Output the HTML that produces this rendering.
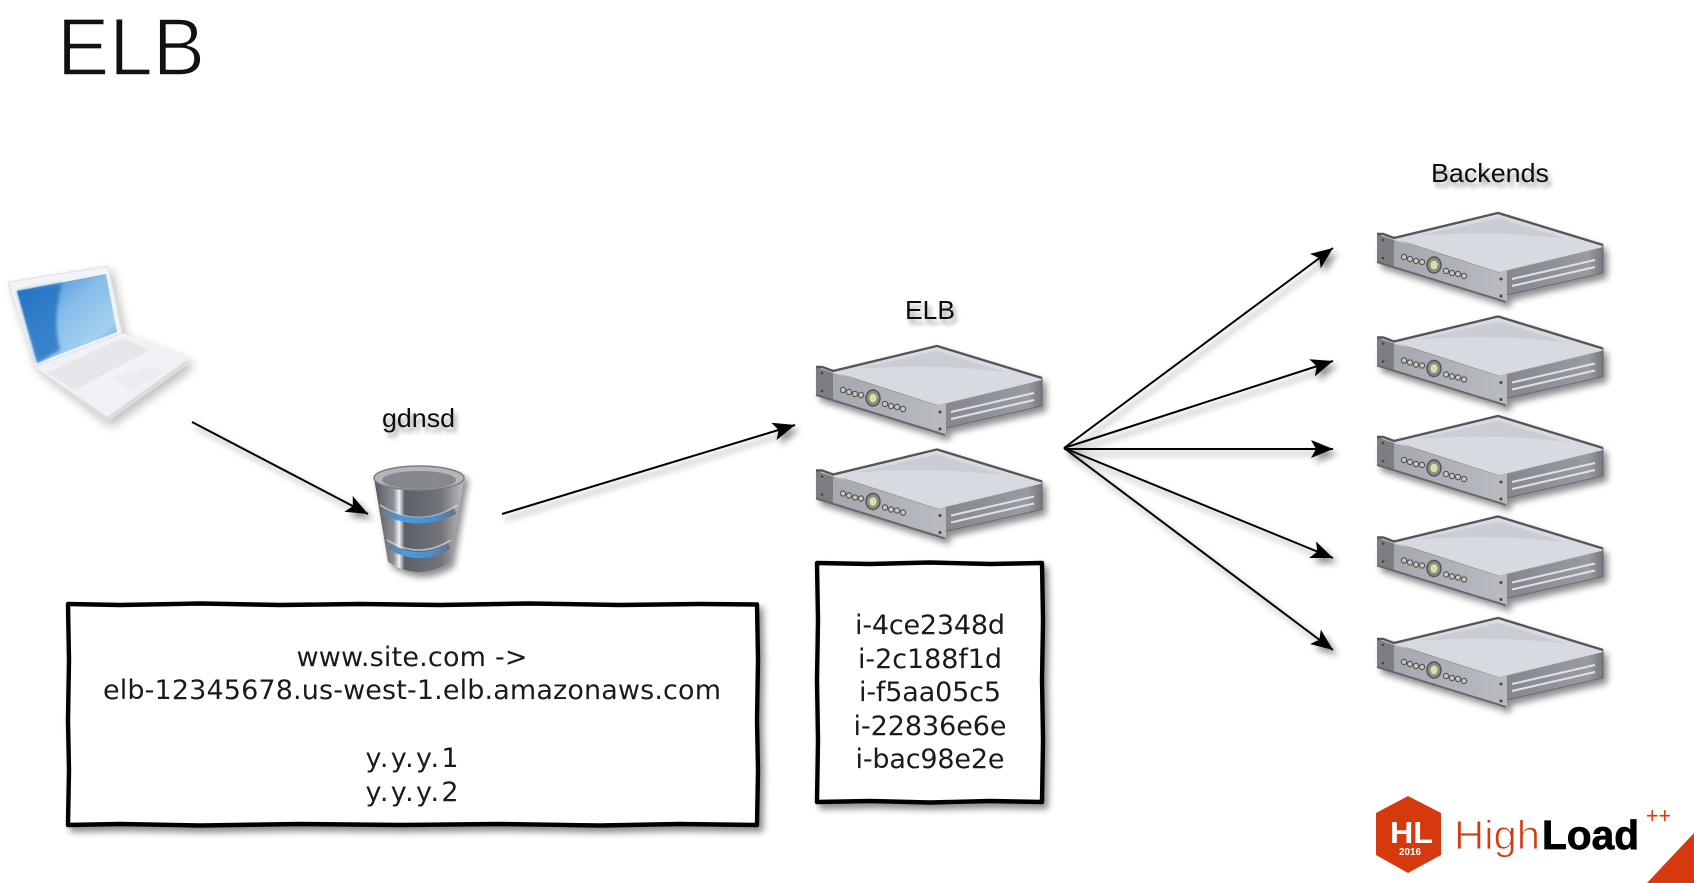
<!DOCTYPE html>
<html><head><meta charset="utf-8"><style>
html,body{margin:0;padding:0;background:#fff;width:1694px;height:883px;overflow:hidden}
svg{display:block}
text{font-family:"Liberation Sans",sans-serif;fill:#111}
.m{font-family:"DejaVu Sans",sans-serif;font-size:27px;text-anchor:middle;fill:#1a1a1a}
.l{font-size:26px;filter:url(#ts)}
</style></head><body>
<svg width="1694" height="883" viewBox="0 0 1694 883" xmlns="http://www.w3.org/2000/svg">
<defs>
<filter id="sh" x="-15%" y="-15%" width="130%" height="135%"><feGaussianBlur in="SourceAlpha" stdDeviation="3.5"/><feOffset dx="4" dy="5"/><feComponentTransfer><feFuncA type="linear" slope=".45"/></feComponentTransfer><feMerge><feMergeNode/><feMergeNode in="SourceGraphic"/></feMerge></filter>
<filter id="soft" x="-15%" y="-15%" width="130%" height="135%"><feGaussianBlur in="SourceAlpha" stdDeviation="5"/><feOffset dx="4" dy="5"/><feComponentTransfer><feFuncA type="linear" slope=".25"/></feComponentTransfer><feMerge><feMergeNode/><feMergeNode in="SourceGraphic"/></feMerge></filter>
<filter id="ts" x="-20%" y="-40%" width="140%" height="190%"><feGaussianBlur in="SourceAlpha" stdDeviation="2.5"/><feOffset dx="3" dy="5"/><feComponentTransfer><feFuncA type="linear" slope=".4"/></feComponentTransfer><feMerge><feMergeNode/><feMergeNode in="SourceGraphic"/></feMerge></filter>
<filter id="b1"><feGaussianBlur stdDeviation="1.5"/></filter>
<marker id="ah" markerUnits="userSpaceOnUse" markerWidth="30" markerHeight="30" refX="25" refY="12" orient="auto" viewBox="0 0 30 24"><path d="M25,12 L3,3 L8,12 L3,21Z" fill="#000"/></marker>
<linearGradient id="front" x1="0" y1="0" x2="1" y2="0"><stop offset="0" stop-color="#a6a8b0"/><stop offset="1" stop-color="#b8bac1"/></linearGradient>
<linearGradient id="side" x1="0" y1="0" x2="1" y2="0"><stop offset="0" stop-color="#85878e"/><stop offset=".85" stop-color="#999ba2"/><stop offset="1" stop-color="#75777d"/></linearGradient>
<linearGradient id="scr" x1="0" y1="0" x2="1" y2="1"><stop offset="0" stop-color="#2b7ccb"/><stop offset=".45" stop-color="#86bdea"/><stop offset=".75" stop-color="#a5d0f0"/><stop offset="1" stop-color="#3a90dc"/></linearGradient>
<linearGradient id="cyl" x1="0" y1="0" x2="1" y2="0"><stop offset="0" stop-color="#54575e"/><stop offset=".22" stop-color="#8d9096"/><stop offset=".28" stop-color="#f0f2f4"/><stop offset=".34" stop-color="#5c6068"/><stop offset=".75" stop-color="#72757b"/><stop offset="1" stop-color="#bcbec2"/></linearGradient>
<linearGradient id="band" x1="0" y1="0" x2="1" y2="0"><stop offset="0" stop-color="#6d7c8c"/><stop offset=".25" stop-color="#4d9ae0"/><stop offset=".7" stop-color="#4590d4"/><stop offset="1" stop-color="#68747f"/></linearGradient>
<g id="srv">
<polygon points="17,28 122,61 122,86 17,55" fill="url(#front)"/>
<polygon points="17,26 121,3 226,35 122,60" fill="#d8dae1"/>
<path d="M40,24 L121,6 L190,27 Q120,18 40,24Z" fill="#cbcdd4"/>
<polygon points="130,59 226,35 226,61 130,83" fill="url(#side)"/>
<polygon points="122,60 130,58 130,90 122,87" fill="#b8bac0"/>
<polygon points="0,22 17,28 17,55 0,50" fill="#7c7e84"/>
<path d="M0,50 L129,90" stroke="#66686e" stroke-width="2" fill="none"/>
<path d="M0,22 L6,22 L17,26 L121,1 L226,33" fill="none" stroke="#55565b" stroke-width="2.4"/>
<path d="M226,33 L226,61 L130,83" fill="none" stroke="#66686e" stroke-width="1"/>
<path d="M135,67 L218,48 M135,74 L218,55" stroke="#dfe0e5" stroke-width="2"/>
<g fill="#c9cbb8" stroke="#55575c" stroke-width="1.2"><circle cx="27" cy="45" r="2.6"/><circle cx="33" cy="47" r="2.6"/><circle cx="39" cy="49" r="2.6"/><circle cx="45" cy="50" r="2.6"/><circle cx="69" cy="59" r="2.6"/><circle cx="75" cy="61" r="2.6"/><circle cx="81" cy="62" r="2.6"/><circle cx="87" cy="64" r="2.6"/></g>
<ellipse cx="57" cy="53" rx="7" ry="8" fill="#8a8c86" stroke="#4f5156" stroke-width="1.4"/><ellipse cx="57" cy="53" rx="3.6" ry="4.4" fill="#d8e0a8"/>
<circle cx="6" cy="28" r="1.3" fill="#444"/><circle cx="6" cy="46" r="1.3" fill="#444"/><circle cx="124" cy="67" r="1.5" fill="#444"/><circle cx="124" cy="84" r="1.5" fill="#444"/>
</g>
</defs>
<rect width="1694" height="883" fill="#fff"/>

<!-- title -->
<text x="57" y="75" font-size="82" textLength="148" lengthAdjust="spacingAndGlyphs" style="fill:#111;stroke:#fff;stroke-width:1.6">ELB</text>

<!-- labels -->
<text class="l" x="1431" y="182" textLength="118" lengthAdjust="spacingAndGlyphs">Backends</text>
<text class="l" x="905" y="319" textLength="50" lengthAdjust="spacingAndGlyphs">ELB</text>
<text class="l" x="382" y="427" textLength="73" lengthAdjust="spacingAndGlyphs">gdnsd</text>

<!-- laptop -->
<g filter="url(#soft)">
<polygon points="8,282 108,266 122,333 188,357 187,365 107,422 35,367" fill="#f0f1f4"/>
<polygon points="8,282 108,266 122,333 35,367" fill="#f2f3f6" stroke="#dfe0e3"/>
<polygon points="17,291 106,274 117,332 37,363" fill="url(#scr)"/>
<path d="M17,291 L62,283 Q52,320 60,350 L37,363Z" fill="#1c6cc0" opacity=".75" filter="url(#b1)"/>
<polygon points="47,373 122,336 183,358 105,405" fill="#f1f2f5"/>
<polygon points="47,373 122,338 150,350 75,390" fill="#e6e7eb"/>
<polygon points="113,378 150,366 165,372 130,390" fill="#ebecef"/>
<polygon points="35,367 107,417 187,360 187,365 107,422" fill="#d9dbdf"/>
</g>

<!-- database -->
<g filter="url(#sh)">
<path d="M374,478 L388,562 Q419,582 450,562 L464,478 Z" fill="url(#cyl)"/>
<path d="M380,505 Q419,530 458,505" fill="none" stroke="#e6e7ea" stroke-width="1.4" opacity=".7"/>
<path d="M383,511 Q419,530 455,511" fill="none" stroke="url(#band)" stroke-width="6"/>
<path d="M387,540 Q419,560 451,540" fill="none" stroke="#e6e7ea" stroke-width="1.4" opacity=".7"/>
<path d="M389,546 Q419,564 449,546" fill="none" stroke="url(#band)" stroke-width="6"/>
<ellipse cx="419" cy="478" rx="45" ry="12" fill="#b4b6ba" stroke="#7b7d82" stroke-width="1.5"/>
<ellipse cx="419" cy="480" rx="37" ry="9" fill="#85888e"/>
</g>

<!-- servers -->
<g filter="url(#sh)">
<use href="#srv" x="816" y="345"/>
<use href="#srv" x="816" y="448.500"/>
<use href="#srv" x="1377" y="212"/>
<use href="#srv" x="1377" y="315.500"/>
<use href="#srv" x="1377" y="415"/>
<use href="#srv" x="1377" y="515.500"/>
<use href="#srv" x="1377" y="617"/>
</g>

<!-- arrows -->
<g stroke="#000" stroke-width="2" fill="none" filter="url(#sh)">
<line x1="192" y1="422" x2="368" y2="514" marker-end="url(#ah)"/>
<line x1="502" y1="514" x2="795" y2="425" marker-end="url(#ah)"/>
<line x1="1064" y1="448" x2="1333" y2="248" marker-end="url(#ah)"/>
<line x1="1064" y1="448" x2="1333" y2="361" marker-end="url(#ah)"/>
<line x1="1064" y1="449" x2="1333" y2="449" marker-end="url(#ah)"/>
<line x1="1064" y1="448" x2="1333" y2="558" marker-end="url(#ah)"/>
<line x1="1064" y1="448" x2="1333" y2="650" marker-end="url(#ah)"/>
</g>

<!-- boxes -->
<g filter="url(#sh)">
<path d="M68,604 L120,605 L200,603.500 L280,605 L360,604 L440,605 L530,603.500 L620,605 L700,604 L757,604.500 L758,660 L757,720 L758,770 L757,825 L680,824 L600,825.500 L500,824 L400,825 L300,824 L200,825.500 L120,824 L68,825 L69,770 L68,720 L69,660 Z" fill="#fff" stroke="#000" stroke-width="4.4" stroke-linejoin="round"/>
<path d="M817,563 L870,564 L930,562.500 L990,564 L1042,563 L1043,620 L1042,680 L1043,740 L1042,802 L990,801 L930,802.500 L870,801 L817,802 L818,740 L817,680 L818,620 Z" fill="#fff" stroke="#000" stroke-width="4.4" stroke-linejoin="round"/>
</g>
<text class="m" x="412" y="666" textLength="231">www.site.com -&gt;</text>
<text class="m" x="412" y="699" textLength="618">elb-12345678.us-west-1.elb.amazonaws.com</text>
<text class="m" x="412" y="767" textLength="93">y.y.y.1</text>
<text class="m" x="412" y="801" textLength="93">y.y.y.2</text>
<text class="m" x="930" y="634" textLength="150">i-4ce2348d</text>
<text class="m" x="930" y="668" textLength="144">i-2c188f1d</text>
<text class="m" x="930" y="701" textLength="142">i-f5aa05c5</text>
<text class="m" x="930" y="735" textLength="153">i-22836e6e</text>
<text class="m" x="930" y="768" textLength="149">i-bac98e2e</text>

<!-- logo -->
<polygon points="1408,796 1441,813 1441,855 1408,873 1376,855 1376,813" fill="#d7390f"/>
<text x="1390" y="843" font-size="31" font-weight="bold" textLength="43" lengthAdjust="spacingAndGlyphs" style="fill:#fff">HL</text>
<text x="1399" y="855" font-size="10" font-weight="bold" textLength="22" lengthAdjust="spacingAndGlyphs" style="fill:#fff">2016</text>
<text x="1454" y="849" font-size="41" textLength="86" lengthAdjust="spacingAndGlyphs" style="fill:#d7390f;stroke:#fff;stroke-width:1">High</text>
<text x="1542" y="849" font-size="41" font-weight="bold" textLength="97" lengthAdjust="spacingAndGlyphs" style="fill:#000;stroke:#000;stroke-width:.8">Load</text>
<text x="1646" y="823" font-size="22" textLength="25" lengthAdjust="spacingAndGlyphs" style="fill:#d7390f">++</text>
<polygon points="1694,833 1647,883 1694,883" fill="#d7390f"/>
</svg>
</body></html>
